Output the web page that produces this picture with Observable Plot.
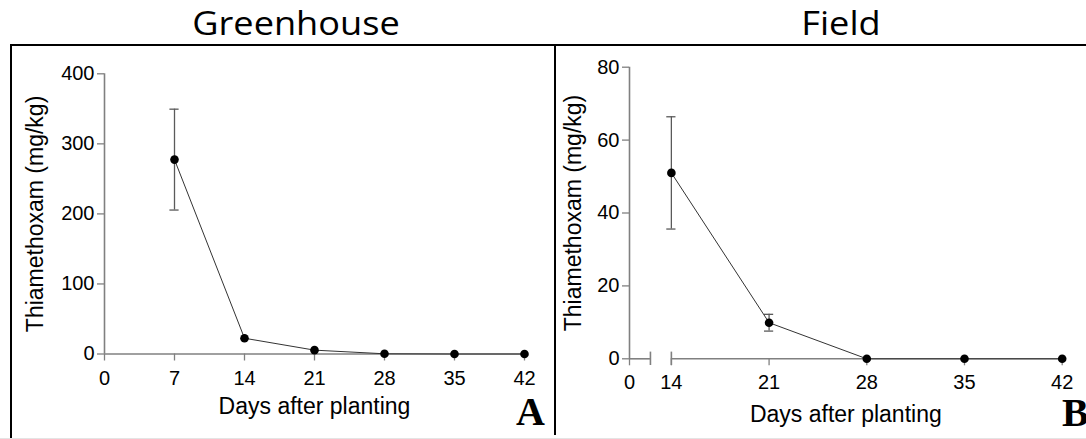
<!DOCTYPE html>
<html>
<head>
<meta charset="utf-8">
<script src="https://cdn.jsdelivr.net/npm/d3@7"></script>
<script src="https://cdn.jsdelivr.net/npm/@observablehq/plot@0.6"></script>
<style>
  body { margin: 0; background: #fff; }
  #wrap { position: relative; width: 1086px; height: 439px; overflow: hidden; background: #fff; }
  .panel { position: absolute; top: 0; }
  .title { position: absolute; font-family: "Open Sans", sans-serif; font-size: 32px; line-height: 32px; white-space: nowrap; color: #000; transform: translateX(-50%) scaleX(1.13); }
  .letter { position: absolute; font-family: "Liberation Serif", serif; font-weight: bold; font-size: 40px; line-height: 40px; color: #000; }
  .bar { position: absolute; background: #000; }
</style>
</head>
<body>
<div id="wrap">
  <div class="panel" id="panelA" style="left:0px"></div>
  <div class="panel" id="panelB" style="left:553px"></div>
  <div class="title" style="left:296px; top:6.6px">Greenhouse</div>
  <div class="title" style="left:841px; top:6.6px">Field</div>
  <div class="bar" style="left:9.5px; top:43.5px; width:1077px; height:2.5px"></div>
  <div class="bar" style="left:9.5px; top:43.5px; width:2.5px; height:396px"></div>
  <div class="bar" style="left:553.5px; top:43.5px; width:2.5px; height:391px"></div>
  <div class="bar" style="left:0px; top:437.5px; width:1086px; height:1px; background:#e4e4e4"></div>
  <div class="letter" style="left:516px; top:391.5px">A</div>
  <div class="letter" style="left:1062px; top:393.2px">B</div>
</div>
<script>
// ---- Data ----
const yLabel = "Thiamethoxam (mg/kg)";
const xLabel = "Days after planting";

const greenhouseDays = [7, 14, 21, 28, 35, 42];
const greenhouseMean = [277.5, 22.5, 5.5, 0.3, 0, 0];
const greenhouseErr  = [72, 0, 0, 0, 0, 0];
const greenhouseXTicks = [0, 7, 14, 21, 28, 35, 42];
const greenhouseYTicks = [0, 100, 200, 300, 400];

const fieldDays = [14, 21, 28, 35, 42];
const fieldMean = [51, 9.9, 0, 0, 0];
const fieldErr  = [15.4, 2.3, 0, 0, 0];
const fieldXTicks = [0, 14, 21, 28, 35, 42];
const fieldYTicks = [0, 20, 40, 60, 80];
const fieldAxisBreak = [7, 14];            // broken x axis: 0 … 7 | 14 … 42
const fieldBreakWidth = 3;                 // the 0–14 stretch is drawn as wide as 3 days

// ---- Build ----
const axisColor = "#808080";
const errColor = "#5a5a5a";
const lineColor = "#333";
const font = "'Liberation Sans', Arial, sans-serif";

function rows(days, mean, err) {
  return days.map((d, i) => ({day: d, mean: mean[i], err: err[i]}));
}

function panelMarks(data, xf, xTicks, yTicks, yLabelDx, xLabelDy, axisMarks) {
  const errData = data.filter(d => d.err > 0);
  const tickPos = xTicks.map(xf);
  return [
    ...axisMarks,
    Plot.ruleX([xf(xTicks[0])], {stroke: axisColor, strokeWidth: 1.6}),
    Plot.axisY({ticks: yTicks, tickSize: 7, tickPadding: 3, stroke: axisColor, strokeWidth: 1.3, label: null, fontSize: 20}),
    Plot.axisX({ticks: tickPos, tickFormat: v => String(xTicks[tickPos.indexOf(v)]), tickSize: 7, tickPadding: 9.3, stroke: axisColor, strokeWidth: 1.3, label: null, fontSize: 20}),
    Plot.ruleX(errData, {x: d => xf(d.day), y1: d => d.mean - d.err, y2: d => d.mean + d.err, stroke: errColor, strokeWidth: 1.3}),
    Plot.ruleY(errData, {x1: d => xf(d.day), x2: d => xf(d.day), y: d => d.mean + d.err, insetLeft: -4.6, insetRight: -4.6, stroke: errColor, strokeWidth: 1.3}),
    Plot.ruleY(errData, {x1: d => xf(d.day), x2: d => xf(d.day), y: d => d.mean - d.err, insetLeft: -4.6, insetRight: -4.6, stroke: errColor, strokeWidth: 1.3}),
    Plot.line(data, {x: d => xf(d.day), y: "mean", stroke: lineColor, strokeWidth: 1}),
    Plot.dot(data, {x: d => xf(d.day), y: "mean", r: 4.3, fill: "#000", stroke: "none"}),
    Plot.text([yLabel], {text: d => d, frameAnchor: "left", textAnchor: "middle", lineAnchor: "middle", dx: yLabelDx, rotate: -90, fontSize: 23, fill: "#000"}),
    Plot.text([xLabel], {text: d => d, frameAnchor: "bottom", textAnchor: "middle", dy: xLabelDy, lineAnchor: "middle", fontSize: 23, fill: "#000"})
  ];
}

// ---- Greenhouse panel ----
const ghData = rows(greenhouseDays, greenhouseMean, greenhouseErr);
const identity = d => d;
const plotA = Plot.plot({
  width: 553, height: 439,
  marginLeft: 104, marginRight: 29, marginTop: 73.3, marginBottom: 85.5,
  style: {fontFamily: font, fontSize: "20px", color: "#000", background: "transparent", overflow: "visible"},
  x: {domain: [greenhouseXTicks[0], greenhouseXTicks[greenhouseXTicks.length - 1]]},
  y: {domain: [greenhouseYTicks[0], greenhouseYTicks[greenhouseYTicks.length - 1]]},
  marks: panelMarks(ghData, identity, greenhouseXTicks, greenhouseYTicks, -69, 52.8, [
    Plot.ruleY([0], {stroke: axisColor, strokeWidth: 1.6})
  ])
});
document.getElementById("panelA").appendChild(plotA);

// ---- Field panel (broken x axis: 0..14 compressed) ----
const xMin = fieldXTicks[0], xBreak = fieldAxisBreak[1], xMax = fieldXTicks[fieldXTicks.length - 1];
const breakMap = d3.scaleLinear().domain([xMin, xBreak, xMax]).range([xBreak - fieldBreakWidth, xBreak, xMax]);

const fdData = rows(fieldDays, fieldMean, fieldErr);
const fieldSegments = [
  {x1: xMin, x2: fieldAxisBreak[0]},
  {x1: fieldAxisBreak[1], x2: xMax}
];
const plotB = Plot.plot({
  width: 533, height: 439,
  marginLeft: 76, marginRight: 24.3, marginTop: 66.7, marginBottom: 80.7,
  style: {fontFamily: font, fontSize: "20px", color: "#000", background: "transparent", overflow: "visible"},
  x: {domain: [breakMap(xMin), breakMap(xMax)]},
  y: {domain: [fieldYTicks[0], fieldYTicks[fieldYTicks.length - 1]]},
  marks: panelMarks(fdData, breakMap, fieldXTicks, fieldYTicks, -56, 56, [
    Plot.ruleY(fieldSegments, {x1: d => breakMap(d.x1), x2: d => breakMap(d.x2), y: d => 0, stroke: axisColor, strokeWidth: 1.6}),
    Plot.ruleX(fieldAxisBreak, {x: d => breakMap(d), y1: d => 0, y2: d => 0, insetTop: -6.7, insetBottom: -6.7, stroke: axisColor, strokeWidth: 1.6})
  ])
});
document.getElementById("panelB").appendChild(plotB);
</script>
</body>
</html>
